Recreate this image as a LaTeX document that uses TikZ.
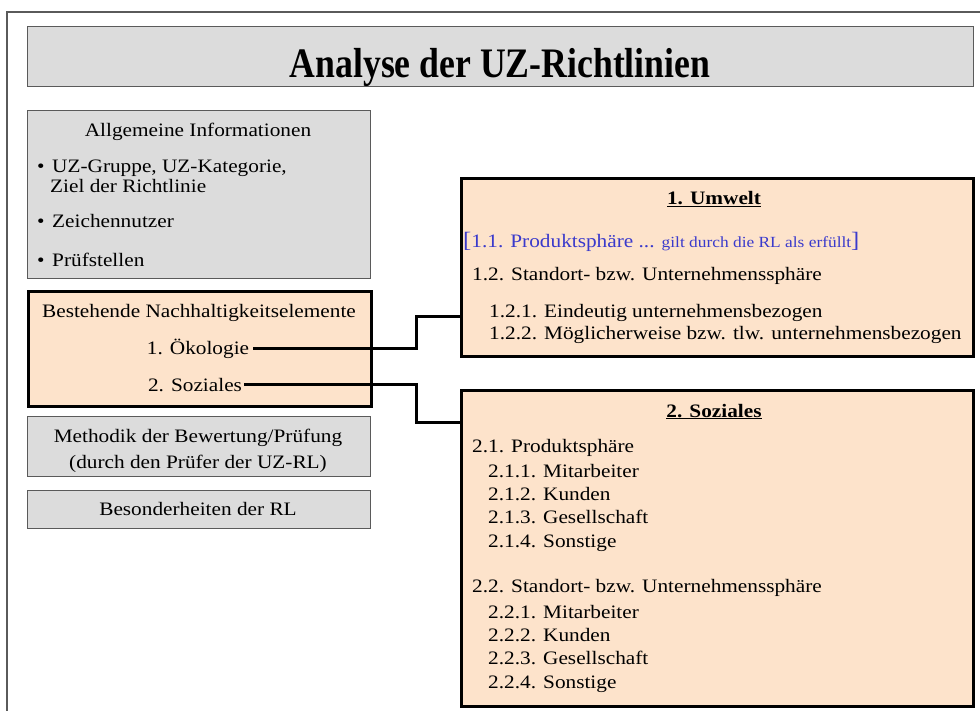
\documentclass[tikz,border=0pt]{standalone}
\usepackage{fontspec}
\setmainfont{Liberation Serif}[FakeStretch=1.12]
\newfontfamily\titlefont{Liberation Serif}[FakeStretch=0.85]
\usepackage{tikz}
\usetikzlibrary{calc,positioning}
\definecolor{boxgray}{HTML}{DCDCDC}
\definecolor{peach}{HTML}{FDE3CB}
\definecolor{framegray}{HTML}{5A5A5A}
\definecolor{linkblue}{HTML}{3A3ACC}
\tikzset{
    % grey info boxes on the left
    graybox/.style={draw=framegray, line width=1.4pt, fill=boxgray,
        anchor=north west, inner sep=0pt},
    % boxes of the sustainability elements
    peachbox/.style={draw=black, line width=3pt, fill=peach,
        anchor=north west, inner sep=0pt},
    txt/.style={inner sep=0pt, anchor=base west,
        font=\fontsize{19}{23}\selectfont},
    ctxt/.style={txt, anchor=base},
    link/.style={line width=3pt}
}

\begin{document}
\begin{tikzpicture}[x=1pt, y=-1pt]
    \useasboundingbox (0,0) rectangle (980,711);
    \draw[framegray, line width=2pt] (7,711) -- (7,12) -- (980,12);

    % title
    \node[graybox, minimum width=946pt, minimum height=60pt] (head) at (27,26) {};
    \node[inner sep=0pt, anchor=base, font=\titlefont\bfseries\fontsize{42}{48}\selectfont]
        (headtxt) at (500,78) {Analyse der UZ-Richtlinien};

    % left column
    \node[graybox, minimum width=343pt, minimum height=168pt] (allg) at (27,110) {};
    \node[ctxt] (allgtxt) at (198,137) {Allgemeine Informationen};
    \node[txt] (b1) at (37,173) {\textbullet};
    \node[txt] (uz) at (52,173) {UZ-Gruppe, UZ-Kategorie,};
    \node[txt] (ziel) at (50,193) {Ziel der Richtlinie};
    \node[txt] (b2) at (37,228) {\textbullet};
    \node[txt] (nutzer) at (52,228) {Zeichennutzer};
    \node[txt] (b3) at (37,267) {\textbullet};
    \node[txt] (pruef) at (52,267) {Prüfstellen};

    \node[peachbox, minimum width=343pt, minimum height=115pt] (best) at (27,290) {};
    \node[ctxt] (besttxt) at (199,318) {Bestehende Nachhaltigkeitselemente};
    \node[ctxt, inner xsep=4pt] (oeko) at (198,354) {1. Ökologie};
    \node[ctxt, inner xsep=2pt] (sozi) at (195,391) {2. Soziales};

    \node[graybox, minimum width=343pt, minimum height=60pt] (meth) at (27,416) {};
    \node[ctxt] (meth1) at (198,442) {Methodik der Bewertung/Prüfung};
    \node[ctxt] (meth2) at (198,468) {(durch den Prüfer der UZ-RL)};

    \node[graybox, minimum width=343pt, minimum height=38pt] (bes) at (27,490) {};
    \node[ctxt] (bestxt) at (198,515) {Besonderheiten der RL};

    % right column
    \node[peachbox, minimum width=512pt, minimum height=178pt] (umwelt) at (460,177) {};
    \node[ctxt, font=\fontsize{19}{23}\selectfont\bfseries] (umwelttxt) at (714,205) {\underline{1. Umwelt}};
    \node[txt, text=linkblue] (u11) at (463,248)
        {{\fontsize{22}{23}\selectfont[}1.1. Produktsphäre ... {\fontsize{15.5}{18}\selectfont gilt durch die RL als erfüllt}{\fontsize{22}{23}\selectfont]}};
    \node[txt] (u12) at (472,281) {1.2. Standort- bzw. Unternehmenssphäre};
    \node[txt] (u121) at (489,318) {1.2.1. Eindeutig unternehmensbezogen};
    \node[txt] (u122) at (489,339) {1.2.2. Möglicherweise bzw. tlw. unternehmensbezogen};

    \node[peachbox, minimum width=512pt, minimum height=316pt] (sozial) at (460,389) {};
    \node[ctxt, font=\fontsize{19}{23}\selectfont\bfseries] (sozialtxt) at (714,417) {\underline{2. Soziales}};
    \node[txt] (s21) at (472,452) {2.1. Produktsphäre};
    \node[txt] (s22) at (472,592) {2.2. Standort- bzw. Unternehmenssphäre};
    \foreach \nr/\item in {1/Mitarbeiter, 2/Kunden, 3/Gesellschaft, 4/Sonstige} {
        \node[txt] (s21\nr) at (488,{477+23.4*(\nr-1)}) {2.1.\nr. \item};
        \node[txt] (s22\nr) at (488,{618+23.4*(\nr-1)}) {2.2.\nr. \item};
    }

    % connectors
    \coordinate (k1) at (416,317);
    \coordinate (k2) at (416,422);
    \draw[link] (oeko.east) -- (oeko.east -| k1) -- (k1) -- (k1 -| umwelt.west);
    \draw[link] (sozi.east) -- (sozi.east -| k2) -- (k2) -- (k2 -| sozial.west);
\end{tikzpicture}
\end{document}
